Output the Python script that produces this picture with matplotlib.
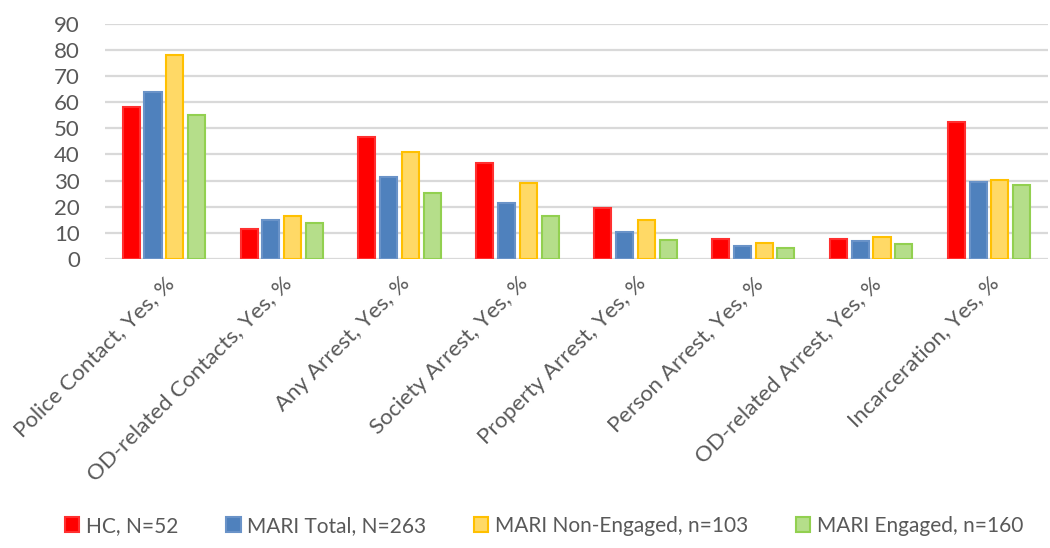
import matplotlib.pyplot as plt
import numpy as np

categories = ['Police Contact, Yes, %', 'OD-related Contacts, Yes, %', 'Any Arrest, Yes, %',
              'Society Arrest, Yes, %', 'Property Arrest, Yes, %', 'Person Arrest, Yes, %',
              'OD-related Arrest, Yes, %', 'Incarceration, Yes, %']
hc = [58, 11.7, 46.6, 36.8, 19.7, 7.9, 7.9, 52.5]
mari_total = [63.8, 14.8, 31.3, 21.6, 10.2, 4.9, 6.9, 29.4]
mari_non = [77.9, 16.5, 41.1, 29.2, 15.1, 6.2, 8.3, 30.2]
mari_eng = [54.9, 13.7, 25.4, 16.5, 7.3, 4.3, 5.7, 28.4]
series_labels = ['HC, N=52', 'MARI Total, N=263', 'MARI Non-Engaged, n=103', 'MARI Engaged, n=160']

plt.rcParams['font.family'] = ['Lato', 'DejaVu Sans']
grey = '#595959'

fig = plt.figure(figsize=(10.5, 5.48), dpi=100)
ax = fig.add_axes([0.100, 0.527, 0.898, 0.430])

x = np.arange(len(categories))
w = 0.145
step = 0.185
fills = ['#FF0000', '#4F81BD', '#FFD966', '#B5DE8A']
edges = ['#FF3030', '#6A93C8', '#FFC000', '#92D050']
data = [hc, mari_total, mari_non, mari_eng]
for i, vals in enumerate(data):
    ax.bar(x + (i - 1.5) * step, vals, w, color=fills[i], edgecolor=edges[i],
           linewidth=1.5, label=series_labels[i], zorder=3)

ax.set_ylim(0, 90)
ax.set_xlim(-0.5, len(categories) - 0.5)
ax.set_yticks(range(0, 91, 10))
ax.yaxis.grid(True, color='#D9D9D9', linewidth=1.6, zorder=0)
for s in ax.spines.values():
    s.set_visible(False)
ax.tick_params(axis='both', length=0, colors=grey, labelsize=16)
ax.tick_params(axis='y', pad=18)
ax.set_xticks(x)
ax.set_xticklabels(categories, rotation=45, ha='right', rotation_mode='anchor')
ax.tick_params(axis='x', pad=10)

fig.legend(loc='lower center', ncol=4, frameon=False, fontsize=15, labelcolor=grey,
           handlelength=0.7, handleheight=0.7, handletextpad=0.3, columnspacing=2.3,
           bbox_to_anchor=(0.518, -0.012))

fig.savefig('out.png', dpi=100)
